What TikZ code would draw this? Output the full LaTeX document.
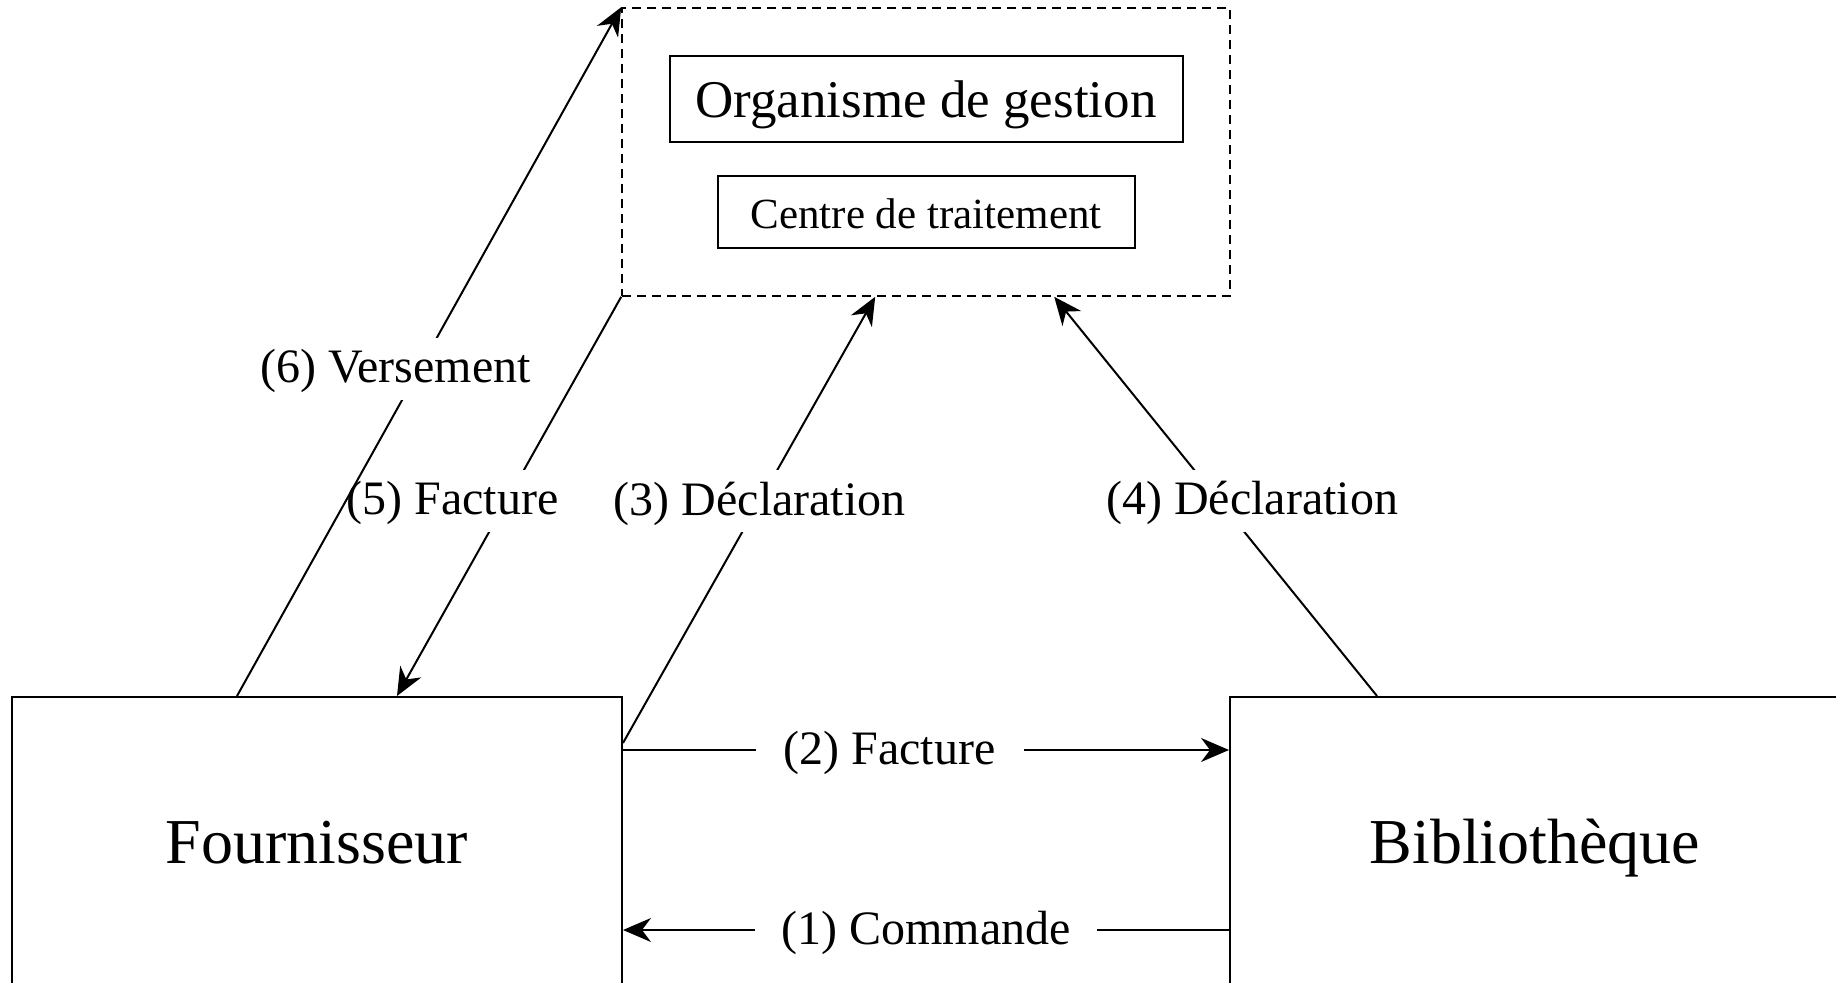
\documentclass[tikz,border=0pt]{standalone}
\usepackage{fontspec}
\setmainfont{Liberation Serif}
\usetikzlibrary{arrows.meta}

\begin{document}
\begin{tikzpicture}[
  box/.style={draw=black, line width=1pt, inner sep=0pt, text depth=0pt},
  lbl/.style={fill=white, inner xsep=3pt, inner ysep=3.5pt, text height=19pt, text depth=5pt, font=\fontsize{24}{28}\selectfont},
  flow/.style={line width=1pt, -{Stealth[length=14pt, width=12pt, inset=4.5pt]}},
  ]
\useasboundingbox (0pt,0pt) rectangle (918pt,-491.5pt);
% the three parties
\node (org) [draw=black, line width=0.8pt, dash pattern=on 4.5pt off 3pt, minimum width=304pt, minimum height=144pt] at (463pt, -76pt) {};
\node (gestion) [box, text height=19pt, minimum width=256.5pt, minimum height=43pt, font=\fontsize{26.5}{30}\selectfont] at (463pt, -49.5pt) {Organisme de gestion};
\node (centre) [box, text height=16.5pt, minimum width=208.5pt, minimum height=36pt, font=\fontsize{21.5}{25}\selectfont] at (463pt, -106pt) {Centre de traitement};
\node (four) [box, text height=20pt, minimum width=305pt, minimum height=146pt, font=\fontsize{32}{38}\selectfont] at (158.5pt, -421.5pt) {Fournisseur};
\node (bib) [box, text height=20pt, minimum width=305pt, minimum height=146pt, font=\fontsize{32}{38}\selectfont] at (767.5pt, -421.5pt) {Bibliothèque};
% flows
\draw [flow] ([yshift=-117pt]bib.north west) to node [lbl, pos=0.5, inner xsep=13pt] {(1) Commande} ([yshift=-117pt]four.north east);
\draw [flow] ([yshift=-27pt]four.north east) to node [lbl, pos=0.44, inner xsep=14pt] {(2) Facture} ([yshift=-27pt]bib.north west);
\draw [flow] ([yshift=-23.5pt]four.north east) to node [lbl, pos=0.542] {(3) Déclaration} ([xshift=127pt]org.south west);
\draw [flow] ([xshift=74pt]bib.north west) to node [lbl, pos=0.489, xshift=16.5pt] {(4) Déclaration} ([xshift=216.5pt]org.south west);
\draw [flow] (org.south west) to node [lbl, pos=0.511, xshift=-27pt] {(5) Facture} ([xshift=193pt]four.north west);
\draw [flow] ([xshift=113pt]four.north west) to node [lbl, pos=0.475, xshift=-12pt] {(6) Versement} (org.north west);
\end{tikzpicture}
\end{document}
